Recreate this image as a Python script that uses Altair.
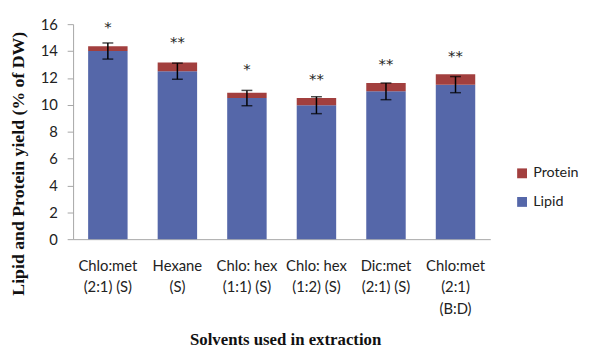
import altair as alt
import pandas as pd

solvents = ["Chlo:met|(2:1) (S)", "Hexane|(S)", "Chlo: hex|(1:1) (S)",
            "Chlo: hex|(1:2) (S)", "Dic:met|(2:1) (S)", "Chlo:met|(2:1)|(B:D)"]
lipid = [14.0, 12.5, 10.5, 9.97, 11.0, 11.5]
protein = [0.36, 0.64, 0.4, 0.53, 0.63, 0.78]
err = [0.6, 0.6, 0.57, 0.63, 0.62, 0.6]
stars = ["*", "**", "*", "**", "**", "**"]
star_y = [15.8, 14.7, 12.65, 11.9, 13.0, 13.6]
yticks = [0, 2, 4, 6, 8, 10, 12, 14, 16]

rows = []
for i, s in enumerate(solvents):
    rows.append({"solvent": s, "component": "Lipid", "value": lipid[i], "ord": 0})
    rows.append({"solvent": s, "component": "Protein", "value": protein[i], "ord": 1})
df = pd.DataFrame(rows)

edf = pd.DataFrame({
    "solvent": solvents,
    "lo": [l - e for l, e in zip(lipid, err)],
    "hi": [l + e for l, e in zip(lipid, err)],
    "star": stars,
    "sy": star_y,
})

FONT = "Lato"
xaxis = alt.Axis(labelExpr="split(datum.label, '|')", labelAngle=0,
                 labelFont=FONT, labelFontSize=15, labelColor="#222",
                 labelLineHeight=21.5, labelPadding=20, labelBaseline="top",
                 labelOverlap=False, labelBound=False,
                 tickSize=0, domainColor="#A6A6A6",
                 titleFont="Liberation Serif", titleFontSize=17,
                 titleFontWeight="bold", titleColor="#111",
                 titleX=215, titleY=102, titleBaseline="middle")
yaxis = alt.Axis(values=yticks, grid=False, tickCount=9,
                 labelOverlap=False, labelBound=False,
                 labelFont=FONT, labelFontSize=15, labelColor="#222",
                 labelPadding=10, tickSize=6, tickColor="#A6A6A6",
                 domainColor="#A6A6A6",
                 titleFont="Liberation Serif", titleFontSize=18,
                 titleFontWeight="bold", titleColor="#111",
                 titleX=-55, titleY=141, titleAngle=270,
                 titleBaseline="middle", titleAlign="center")
YT = "Lipid  and Protein yield (% of DW)"
XT = "Solvents used in extraction"
yscale = alt.Scale(domain=[0, 16], nice=False)


def xe():
    return alt.X("solvent:N", sort=solvents, title=XT, axis=xaxis)


def ye(field):
    return alt.Y(field, scale=yscale, title=YT, axis=yaxis)


bars = alt.Chart(df).mark_bar(size=40).encode(
    x=xe(),
    y=alt.Y("value:Q", stack="zero", scale=yscale, title=YT, axis=yaxis),
    color=alt.Color("component:N",
                    scale=alt.Scale(domain=["Protein", "Lipid"],
                                    range=["#A23F3E", "#5567A9"]),
                    legend=alt.Legend(title=None, orient="none", legendX=448,
                                      legendY=144, padding=0, labelFont=FONT,
                                      labelFontSize=14.5, labelLimit=200,
                                      labelColor="#222", symbolType="square",
                                      symbolSize=100, rowPadding=14,
                                      labelOffset=4,
                                      symbolStrokeWidth=0)),
    order=alt.Order("ord:Q"),
)

rule = alt.Chart(edf).mark_rule(color="black", strokeWidth=1.5).encode(
    x=xe(), y=ye("lo:Q"), y2="hi:Q")
caps_lo = alt.Chart(edf).mark_tick(color="black", size=11, thickness=1.5).encode(
    x=xe(), y=ye("lo:Q"))
caps_hi = alt.Chart(edf).mark_tick(color="black", size=11, thickness=1.5).encode(
    x=xe(), y=ye("hi:Q"))
txt = alt.Chart(edf).mark_text(font="DejaVu Sans", fontSize=15, color="#222",
                               baseline="middle", dy=0).encode(
    x=xe(), y=ye("sy:Q"), text="star:N")

chart = alt.layer(bars, rule, caps_lo, caps_hi, txt).properties(
    width=423, height=218,
    autosize=alt.AutoSizeParams(type="none"),
    padding={"left": 66, "top": 14, "right": 93, "bottom": 110},
).configure_view(stroke=None).configure_scale(bandPaddingInner=0.43)

chart.save("out.html", embed_options={"renderer": "svg", "actions": False})
